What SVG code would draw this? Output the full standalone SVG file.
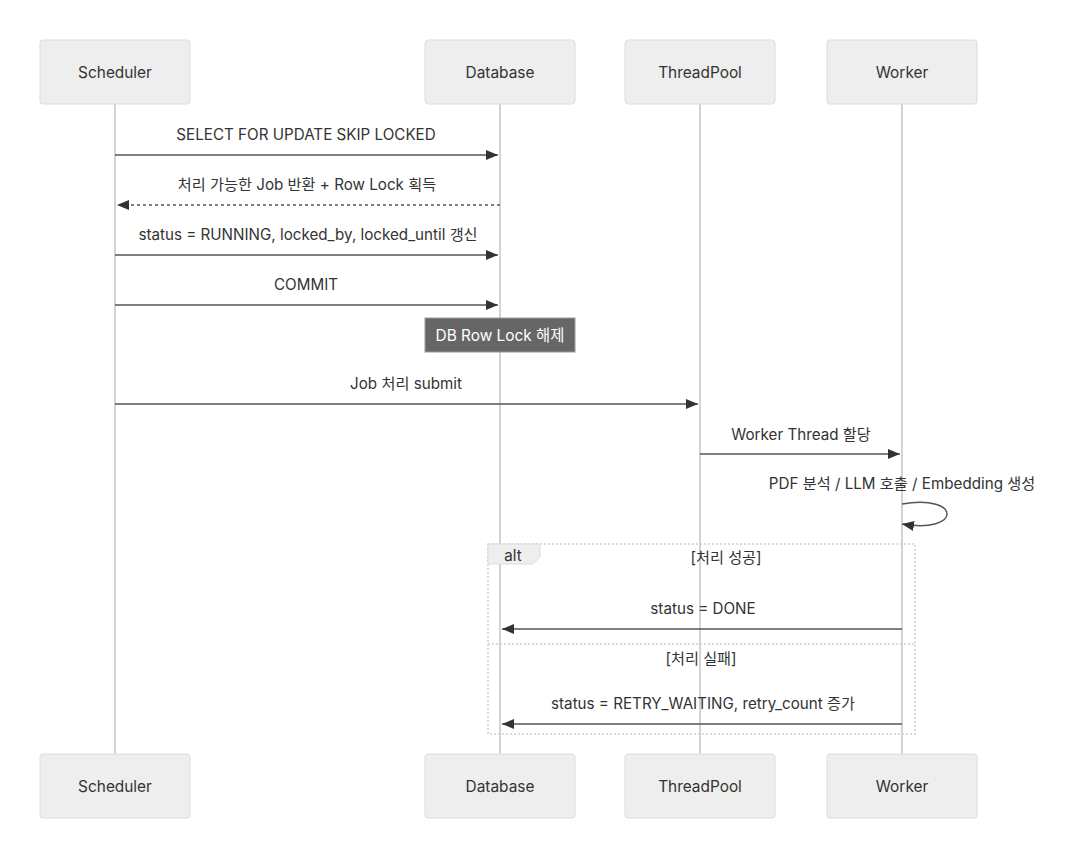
<svg xmlns="http://www.w3.org/2000/svg" width="1075" height="859" viewBox="0 0 1075 859">
<style>
.actor{fill:#eeeeee;stroke:#dcdcdc;stroke-width:1}
.atext{font-family:"Inter","Liberation Sans","Noto Sans CJK KR",sans-serif;font-size:15.4px;fill:#333;text-anchor:middle;dominant-baseline:central}
.life{stroke:#d3d3d3;stroke-width:2}
.msg{stroke:#555;stroke-width:1.5;fill:none}
.dash{stroke-dasharray:3,3}
.mtext{font-family:"Inter","Liberation Sans","Noto Sans CJK KR",sans-serif;font-size:15.2px;fill:#333;text-anchor:middle;dominant-baseline:central}
.frame{fill:none;stroke:#cfcfcf;stroke-width:1.5;stroke-dasharray:2,2}
</style>
<defs>
<marker id="ah" viewBox="0 0 12 10" refX="12" refY="5" markerWidth="12" markerHeight="10" markerUnits="userSpaceOnUse" orient="auto">
<path d="M0,0 L12,5 L0,10 z" fill="#333"/>
</marker>
</defs>
<rect width="1075" height="859" fill="#ffffff"/>
<g id="lifelines">
<line class="life" x1="115" y1="104" x2="115" y2="754"/>
<line class="life" x1="500" y1="104" x2="500" y2="754"/>
<line class="life" x1="700" y1="104" x2="700" y2="754"/>
<line class="life" x1="902" y1="104" x2="902" y2="754"/>
</g>
<g id="actor-scheduler-top"><rect class="actor" x="40" y="40" width="150" height="64" rx="3"/><text class="atext" x="115" y="72">Scheduler</text></g>
<g id="actor-database-top"><rect class="actor" x="425" y="40" width="150" height="64" rx="3"/><text class="atext" x="500" y="72">Database</text></g>
<g id="actor-threadpool-top"><rect class="actor" x="625" y="40" width="150" height="64" rx="3"/><text class="atext" x="700" y="72">ThreadPool</text></g>
<g id="actor-worker-top"><rect class="actor" x="827" y="40" width="150" height="64" rx="3"/><text class="atext" x="902" y="72">Worker</text></g>
<g id="actor-scheduler-bottom"><rect class="actor" x="40" y="754" width="150" height="64" rx="3"/><text class="atext" x="115" y="786">Scheduler</text></g>
<g id="actor-database-bottom"><rect class="actor" x="425" y="754" width="150" height="64" rx="3"/><text class="atext" x="500" y="786">Database</text></g>
<g id="actor-threadpool-bottom"><rect class="actor" x="625" y="754" width="150" height="64" rx="3"/><text class="atext" x="700" y="786">ThreadPool</text></g>
<g id="actor-worker-bottom"><rect class="actor" x="827" y="754" width="150" height="64" rx="3"/><text class="atext" x="902" y="786">Worker</text></g>
<g id="note-db-unlock"><rect x="425" y="318" width="150" height="34" fill="#666666" stroke="#999" stroke-width="1"/><text class="atext" x="500" y="335" style="fill:#fff">DB Row Lock 해제</text></g>
<g id="alt-frame">
<rect class="frame" x="488" y="544" width="427" height="190"/>
<path d="M488,544 L540,544 L540,557 L533,564 L488,564 z" fill="#eeeeee" stroke="#dcdcdc" stroke-width="1"/>
<text class="mtext" x="513" y="555">alt</text>
<text class="mtext" x="726" y="557">[처리 성공]</text>
<line class="frame" x1="488" y1="644" x2="915" y2="644"/>
<text class="mtext" x="701" y="658">[처리 실패]</text>
</g>
<g id="connectors">
<line class="msg" x1="115" y1="155" x2="498" y2="155" marker-end="url(#ah)"/>
<text class="mtext" x="306" y="134">SELECT FOR UPDATE SKIP LOCKED</text>
<line class="msg dash" x1="500" y1="205" x2="117" y2="205" marker-end="url(#ah)"/>
<text class="mtext" x="307" y="184">처리 가능한 Job 반환 + Row Lock 획득</text>
<line class="msg" x1="115" y1="255" x2="498" y2="255" marker-end="url(#ah)"/>
<text class="mtext" x="308" y="234">status = RUNNING, locked_by, locked_until 갱신</text>
<line class="msg" x1="115" y1="305" x2="498" y2="305" marker-end="url(#ah)"/>
<text class="mtext" x="306" y="284">COMMIT</text>
<line class="msg" x1="115" y1="404" x2="698" y2="404" marker-end="url(#ah)"/>
<text class="mtext" x="406" y="383">Job 처리 submit</text>
<line class="msg" x1="700" y1="454" x2="900" y2="454" marker-end="url(#ah)"/>
<text class="mtext" x="801" y="434">Worker Thread 할당</text>
<path class="msg" d="M902,504 C962,494 962,534 902,524" marker-end="url(#ah)"/>
<text class="mtext" x="902" y="483">PDF 분석 / LLM 호출 / Embedding 생성</text>
<line class="msg" x1="902" y1="629" x2="502" y2="629" marker-end="url(#ah)"/>
<text class="mtext" x="703" y="608">status = DONE</text>
<line class="msg" x1="902" y1="724" x2="502" y2="724" marker-end="url(#ah)"/>
<text class="mtext" x="703" y="703">status = RETRY_WAITING, retry_count 증가</text>
</g>
</svg>
